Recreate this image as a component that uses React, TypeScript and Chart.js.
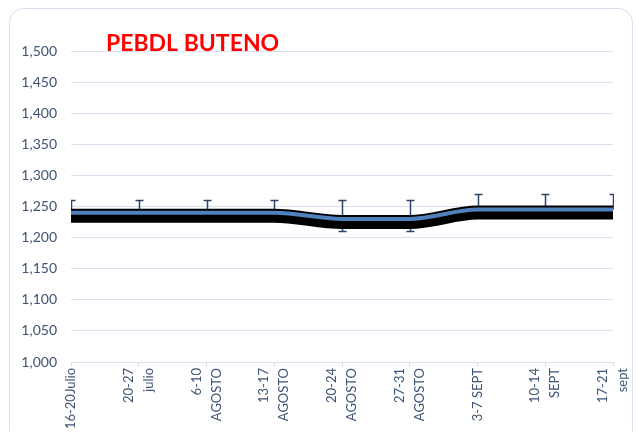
import React, { useEffect, useRef } from 'react';
import { Chart, registerables } from 'chart.js';

Chart.register(...registerables);

const categories: (string | string[])[] = [
  '16-20Julio',
  ['20-27', 'julio'],
  ['6-10', 'AGOSTO'],
  ['13-17', 'AGOSTO'],
  ['20-24', 'AGOSTO'],
  ['27-31', 'AGOSTO'],
  '3-7 SEPT',
  ['10-14', 'SEPT'],
  ['17-21', 'sept'],
];
const prices = [1240, 1240, 1240, 1240, 1230, 1230, 1245, 1245, 1245];
const errorHigh = [1260, 1260, 1260, 1260, 1260, 1260, 1270, 1270, 1270];
const errorLow: (number | null)[] = [null, null, null, null, 1210, 1210, null, null, null];
const yMin = 1000;
const yMax = 1500;
const yStep = 50;
const chartTitle = 'PEBDL BUTENO';

const GRID = '#D9E1F0';
const TICK = '#3F5474';
const FONT = 'Lato, "Noto Sans", sans-serif';

export default function App() {
  const ref = useRef<HTMLCanvasElement>(null);

  useEffect(() => {
    if (!ref.current) return;

    const frame = {
      id: 'frame',
      beforeDraw(chart: any) {
        const ctx = chart.ctx;
        ctx.save();
        ctx.fillStyle = '#ffffff';
        ctx.fillRect(0, 0, chart.width, chart.height);
        ctx.strokeStyle = '#D5DEEC';
        ctx.lineWidth = 1;
        ctx.beginPath();
        ctx.roundRect(9.5, 8.5, 623, 436, 14);
        ctx.stroke();
        ctx.restore();
      },
    };

    const shadow = {
      id: 'shadow',
      beforeDatasetDraw(chart: any, args: any) {
        if (args.index === 1) {
          chart.ctx.save();
          chart.ctx.translate(0, 3);
        }
      },
      afterDatasetDraw(chart: any, args: any) {
        if (args.index === 1) chart.ctx.restore();
      },
    };

    const errorBars = {
      id: 'errorBars',
      beforeDatasetsDraw(chart: any) {
        const ctx = chart.ctx;
        const x = chart.scales.x;
        const y = chart.scales.y;
        const a = chart.chartArea;
        ctx.save();
        ctx.beginPath();
        ctx.rect(a.left, a.top, a.right - a.left + 1, a.bottom - a.top);
        ctx.clip();
        ctx.strokeStyle = '#2B4468';
        ctx.lineWidth = 1.5;
        prices.forEach((v, i) => {
          const px = Math.round(x.getPixelForValue(i)) + 0.5;
          const py = y.getPixelForValue(v);
          const ends = [errorHigh[i], errorLow[i]];
          ends.forEach((e) => {
            if (e === null || e === undefined) return;
            const ey = Math.round(y.getPixelForValue(e)) + 0.5;
            ctx.beginPath();
            ctx.moveTo(px, py);
            ctx.lineTo(px, ey);
            ctx.moveTo(px - 4, ey);
            ctx.lineTo(px + 4, ey);
            ctx.stroke();
          });
        });
        ctx.restore();
      },
    };

    const xLabels = {
      id: 'xLabels',
      afterDraw(chart: any) {
        const ctx = chart.ctx;
        const x = chart.scales.x;
        const top = chart.chartArea.bottom + 6;
        ctx.save();
        ctx.fillStyle = TICK;
        ctx.font = `13px ${FONT}`;
        ctx.textAlign = 'right';
        ctx.textBaseline = 'middle';
        categories.forEach((lab, i) => {
          const lines = Array.isArray(lab) ? lab : [lab];
          const px = x.getPixelForValue(i);
          lines.forEach((line, j) => {
            const off = (j - (lines.length - 1) / 2) * 20;
            ctx.save();
            ctx.translate(px + off, top);
            ctx.rotate(-Math.PI / 2);
            ctx.fillText(line, 0, 0);
            ctx.restore();
          });
        });
        ctx.restore();
      },
    };

    const titlePlugin = {
      id: 'titleText',
      afterDraw(chart: any) {
        const ctx = chart.ctx;
        const a = chart.chartArea;
        ctx.save();
        ctx.fillStyle = '#FF0000';
        ctx.font = `bold 23px ${FONT}`;
        ctx.textAlign = 'left';
        ctx.textBaseline = 'alphabetic';
        ctx.fillText(chartTitle, a.left + 35, a.top);
        ctx.restore();
      },
    };

    const chart = new Chart(ref.current, {
      type: 'line',
      data: {
        labels: categories,
        datasets: [
          {
            label: 'Precio',
            data: prices,
            borderColor: '#4F81BD',
            borderWidth: 4,
            borderCapStyle: 'butt',
            pointRadius: 0,
            cubicInterpolationMode: 'monotone',
            fill: false,
          },
          {
            label: 'Sombra',
            data: prices,
            borderColor: '#000000',
            borderWidth: 14,
            borderCapStyle: 'butt',
            pointRadius: 0,
            cubicInterpolationMode: 'monotone',
            fill: false,
          },
        ],
      },
      options: {
        animation: false,
        responsive: false,
        devicePixelRatio: 1,
        layout: { padding: { left: 0, right: 23, top: 51, bottom: 0 } },
        plugins: {
          legend: { display: false },
          title: { display: false },
          tooltip: { enabled: false },
        },
        scales: {
          x: {
            type: 'category',
            offset: false,
            afterFit(scale: any) {
              scale.height = 70;
              scale.paddingLeft = 0;
              scale.paddingRight = 0;
            },
            grid: {
              drawOnChartArea: false,
              drawTicks: true,
              tickLength: 5,
              color: GRID,
            },
            border: { color: GRID },
            ticks: {
              autoSkip: false,
              display: false,
            },
          },
          y: {
            min: yMin,
            max: yMax,
            afterFit(scale: any) {
              scale.width = 71;
              scale.paddingTop = 0;
              scale.paddingBottom = 0;
            },
            grid: { color: GRID, drawTicks: false },
            border: { display: false },
            ticks: {
              stepSize: yStep,
              padding: 14,
              color: TICK,
              font: { family: FONT, size: 14 },
              callback: (v: any) => Number(v).toLocaleString('en-US'),
            },
          },
        },
      },
      plugins: [frame, shadow, errorBars, xLabels, titlePlugin],
    });

    return () => chart.destroy();
  }, []);

  return (
    <div style={{ position: 'absolute', left: 0, top: 0, width: 636, height: 432 }}>
      <canvas ref={ref} width={636} height={432} style={{ display: 'block' }} />
    </div>
  );
}
